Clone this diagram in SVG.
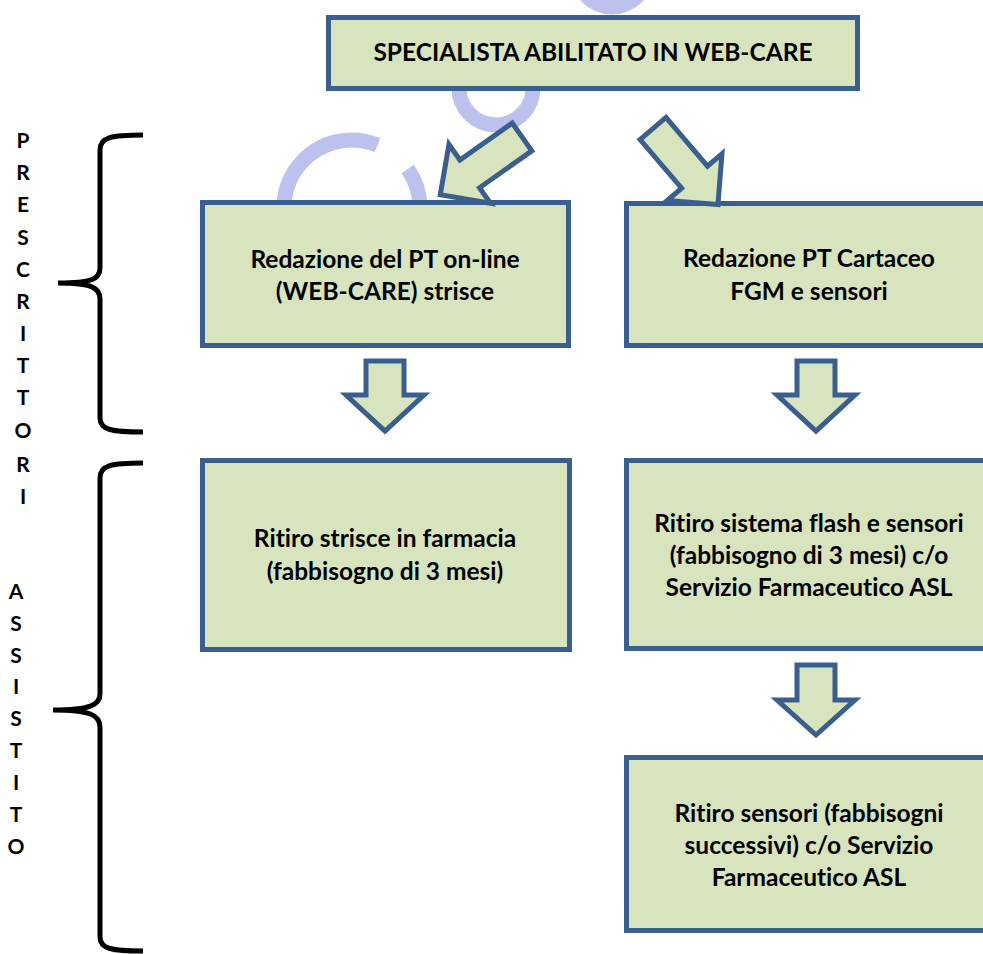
<svg xmlns="http://www.w3.org/2000/svg" width="983" height="954" viewBox="0 0 983 954">
<style>
.box{fill:#d7e4bd;stroke:#3a5f8e;stroke-width:5}
.arr{fill:#d7e4bd;stroke:#3a5f8e;stroke-width:5;stroke-linejoin:miter}
.t{font-family:Lato,"Liberation Sans",sans-serif;font-weight:bold;font-size:24.5px;fill:#000;text-anchor:middle;font-variant-ligatures:none;font-feature-settings:"liga" 0,"dlig" 0}
.side{font-family:Lato,"Liberation Sans",sans-serif;font-weight:bold;font-size:21px;fill:#000;text-anchor:middle}
.brace{fill:none;stroke:#000;stroke-width:5;stroke-linecap:butt}
.wm{fill:none;stroke:#bdc1ee;stroke-width:15}
</style>
<rect width="983" height="954" fill="#fff"/>
<g id="watermark">
<circle class="wm" cx="496" cy="88" r="37"/>
<circle class="wm" cx="612" cy="-28" r="35"/>
<path class="wm" d="M377.5,145 A68,68 0 0 0 293,242"/>
<path class="wm" d="M407.7,169 A68,68 0 0 1 410.9,242"/>
</g>
<g id="labels">
<text class="side" x="23" y="148">P</text>
<text class="side" x="23" y="180">R</text>
<text class="side" x="23" y="212">E</text>
<text class="side" x="23" y="245">S</text>
<text class="side" x="23" y="277">C</text>
<text class="side" x="23" y="309">R</text>
<text class="side" x="23" y="341">I</text>
<text class="side" x="23" y="373">T</text>
<text class="side" x="23" y="405">T</text>
<text class="side" x="23" y="438">O</text>
<text class="side" x="23" y="472">R</text>
<text class="side" x="23" y="504">I</text>
<text class="side" x="16" y="599">A</text>
<text class="side" x="16" y="631">S</text>
<text class="side" x="16" y="663">S</text>
<text class="side" x="16" y="694">I</text>
<text class="side" x="16" y="726">S</text>
<text class="side" x="16" y="758">T</text>
<text class="side" x="16" y="790">I</text>
<text class="side" x="16" y="822">T</text>
<text class="side" x="16" y="854">O</text>
</g>
<g id="braces">
<path class="brace" d="M143,135 C112,135 100,137 100,150 L100,268 C100,279 92,283 58,283 C92,283 100,288 100,299 L100,418 C100,430 112,432 143,432"/>
<path class="brace" d="M143,463 C112,463 100,465 100,478 L100,694 C100,705 90,710 53,710 C90,710 100,715 100,727 L100,937 C100,949 112,951 143,951"/>
</g>
<g id="n-top">
<rect class="box" x="328.5" y="17.5" width="529" height="71"/>
<text class="t" x="593" y="61">SPECIALISTA ABILITATO IN WEB-CARE</text>
</g>
<g id="n-online">
<rect class="box" x="202.5" y="202.5" width="366" height="143"/>
<text class="t" x="385" y="268">Redazione del PT on-line</text>
<text class="t" x="385" y="300">(WEB-CARE) strisce</text>
</g>
<g id="n-cartaceo">
<rect class="box" x="626.5" y="203.5" width="370" height="142"/>
<text class="t" x="809" y="267">Redazione PT Cartaceo</text>
<text class="t" x="809" y="300">FGM e sensori</text>
</g>
<g id="n-strisce">
<rect class="box" x="202.5" y="460.5" width="367" height="189"/>
<text class="t" x="385" y="547">Ritiro strisce in farmacia</text>
<text class="t" x="385" y="580">(fabbisogno di 3 mesi)</text>
</g>
<g id="n-flash">
<rect class="box" x="626.5" y="460.5" width="370" height="188"/>
<text class="t" x="809" y="532">Ritiro sistema flash e sensori</text>
<text class="t" x="809" y="564">(fabbisogno di 3 mesi) c/o</text>
<text class="t" x="809" y="596">Servizio Farmaceutico ASL</text>
</g>
<g id="n-sensori">
<rect class="box" x="626.5" y="757.5" width="370" height="173"/>
<text class="t" x="809" y="822">Ritiro sensori (fabbisogni</text>
<text class="t" x="809" y="854">successivi) c/o Servizio</text>
<text class="t" x="809" y="886">Farmaceutico ASL</text>
</g>
<g id="connectors">
<polygon class="arr" transform="translate(522,137) rotate(144.8)" points="0,-17 64,-17 64,-36 100,0 64,36 64,17 0,17"/>
<polygon class="arr" transform="translate(653,128.5) rotate(49.5)" points="0,-17 64,-17 64,-36 100,0 64,36 64,17 0,17"/>
<polygon class="arr" points="366,361 404,361 404,395 424,395 385,431 346,395 366,395"/>
<polygon class="arr" points="797,361 835,361 835,395 855,395 816,431 777,395 797,395"/>
<polygon class="arr" points="797,665 835,665 835,700 855,700 816,735 777,700 797,700"/>
</g>
</svg>
